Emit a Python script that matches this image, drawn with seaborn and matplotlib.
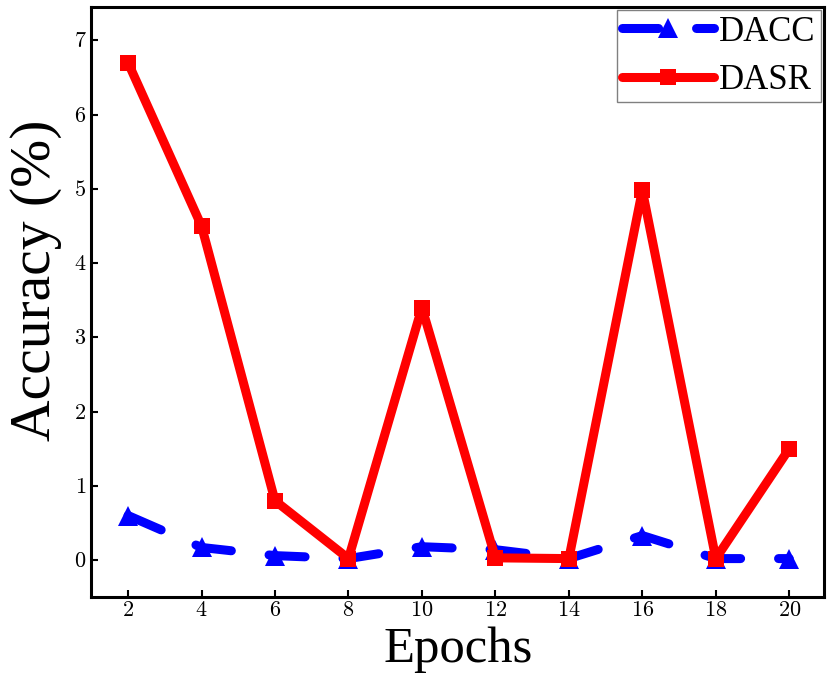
import numpy as np
import pandas as pd
import matplotlib
matplotlib.use('Agg')
import matplotlib.pyplot as plt
import seaborn as sns
from matplotlib.ticker import FuncFormatter

# data
epochs = [2, 4, 6, 8, 10, 12, 14, 16, 18, 20]
dacc = [0.60, 0.17, 0.06, 0.02, 0.18, 0.14, 0.02, 0.33, 0.02, 0.02]
dasr = [6.70, 4.50, 0.80, 0.02, 3.40, 0.03, 0.02, 4.98, 0.02, 1.50]

sns.set_style('white')
plt.rcParams['font.family'] = ['Liberation Serif', 'DejaVu Serif']
plt.rcParams['mathtext.fontset'] = 'cm'
for k in ['text.color', 'axes.labelcolor', 'xtick.color', 'ytick.color']:
    plt.rcParams[k] = 'black'

fig, ax = plt.subplots(figsize=(8.3, 6.92), dpi=100)

sns.lineplot(x=epochs, y=dacc, ax=ax, color='blue', lw=6.5, marker='^',
             markersize=14, markeredgewidth=0, dashes=False, label='DACC',
             dash_capstyle='round', solid_capstyle='round')
sns.lineplot(x=epochs, y=dasr, ax=ax, color='red', lw=6.5, marker='s',
             markersize=11, markeredgewidth=0, dashes=False, label='DASR',
             solid_capstyle='round')
ax.lines[0].set_dashes((4.0, 4.2))

ax.set_xlim(1.0, 20.95)
ax.set_ylim(-0.5, 7.45)
ax.set_xticks(epochs)
ax.set_yticks(range(0, 8))
fmt = FuncFormatter(lambda v, p: f'${v:g}$')
ax.xaxis.set_major_formatter(fmt)
ax.yaxis.set_major_formatter(fmt)
ax.tick_params(direction='in', length=5, width=1.5, labelsize=16,
               bottom=True, left=True)
for s in ax.spines.values():
    s.set_linewidth(2.2)
    s.set_color('black')

ax.set_xlabel('Epochs', fontsize=36.5, labelpad=4)
ax.set_ylabel('Accuracy (%)', fontsize=41.5)
ax.yaxis.set_label_coords(-0.04, 0.537)

leg = ax.legend(loc='upper right', fontsize=25, handlelength=2.65,
                fancybox=False, framealpha=1, edgecolor='gray',
                borderpad=0.15, labelspacing=0.45, handletextpad=0.15,
                borderaxespad=0.1)
leg.get_frame().set_linewidth(1.0)

plt.subplots_adjust(left=0.11, right=0.993, top=0.99, bottom=0.137)
fig.savefig('out.png', dpi=100)
